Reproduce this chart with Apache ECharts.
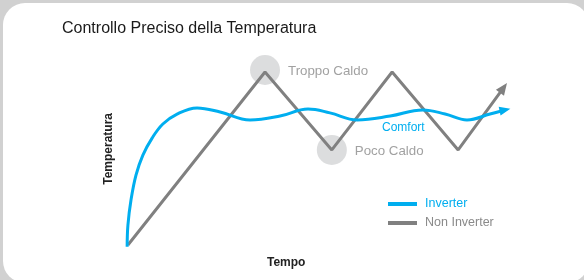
<!DOCTYPE html>
<html lang="it">
<head>
    <meta charset="UTF-8">
    <title>Controllo Preciso della Temperatura</title>
    <script src="https://cdn.jsdelivr.net/npm/echarts@6/dist/echarts.min.js"></script>
</head>
<style>
    html, body {
        margin: 0;
        padding: 0;
        width: 584px;
        height: 280px;
        overflow: hidden;
        background-color: #d1d1d1;
    }
    .card {
        position: absolute;
        left: 3px;
        top: 3px;
        width: 586px;
        height: 280px;
        border-radius: 22px;
        background-color: #ffffff;
    }
    #chart {
        position: absolute;
        left: 0;
        top: 0;
        width: 584px;
        height: 280px;
    }
</style>
<body>
<div class="card"></div>
<div id="chart"></div>
<script>
    // tempo (0-100) / temperatura (0-100)
    var inverterX = [0.3, 0.5, 1.3, 2.6, 4.4, 6.8, 9.6, 13.3, 18.5, 24.5, 32.3, 40.1, 47.4, 53.1, 60.2, 68.8, 77.3, 83.1, 88.8, 94.8, 98.7];
    var inverterY = [-1, 10.8, 24.3, 37.8, 48.6, 57.8, 65.4, 70.8, 74.1, 71.9, 67.6, 69.7, 73.5, 71.4, 67.6, 69.7, 73.0, 70.8, 67.6, 70.8, 73.0];
    var nonInverterX = [0.5, 36.2, 53.6, 69.3, 86.5, 98.3];
    var nonInverterY = [0, 93.5, 51.4, 93.5, 51.4, 84.9];
    var markerX = [36.2, 53.6];
    var markerY = [94.6, 51.4];
    var markerNames = ['Troppo Caldo', 'Poco Caldo'];
    var seriesNames = ['Inverter', 'Non Inverter'];

    var BLUE = '#00aeef';
    var GRAY = '#808080';
    var FONT = '"Liberation Sans", Arial, sans-serif';

    // ultimo punto = punta della freccia
    function pairs(xs, ys, arrowRotate, arrowSize) {
        var out = [];
        for (var i = 0; i < xs.length; i++) {
            if (i === xs.length - 1) {
                out.push({
                    value: [xs[i], ys[i]],
                    symbol: 'triangle',
                    symbolSize: arrowSize,
                    symbolRotate: arrowRotate
                });
            } else {
                out.push([xs[i], ys[i]]);
            }
        }
        return out;
    }

    var markers = [];
    for (var i = 0; i < markerX.length; i++) {
        markers.push({name: markerNames[i], value: [markerX[i], markerY[i]]});
    }

    var chart = echarts.init(document.getElementById('chart'), null, {renderer: 'canvas'});
    chart.setOption({
        animation: false,
        backgroundColor: 'transparent',
        textStyle: {fontFamily: FONT},
        grid: {left: 126, right: 74, top: 60, bottom: 35},
        xAxis: {type: 'value', min: 0, max: 100, show: false},
        yAxis: {type: 'value', min: 0, max: 100, show: false},
        legend: {
            orient: 'vertical',
            left: 388,
            top: 197,
            padding: 0,
            itemWidth: 29,
            itemHeight: 4,
            itemGap: 5,
            icon: 'rect',
            textStyle: {fontSize: 12.5, fontFamily: FONT, padding: [0, 0, 0, 3], lineHeight: 14},
            data: [
                {name: seriesNames[0], itemStyle: {color: BLUE}, textStyle: {color: BLUE}},
                {name: seriesNames[1], itemStyle: {color: GRAY}, textStyle: {color: '#8a8a8a'}}
            ]
        },
        graphic: [
            {type: 'text', left: 62, top: 21, style: {text: 'Controllo Preciso della Temperatura', fill: '#1a1a1a', font: '16px ' + FONT}},
            {type: 'text', left: 103, top: 113, rotation: Math.PI / 2, originX: 0, originY: 0,
                style: {text: 'Temperatura', fill: '#222', font: 'bold 12px ' + FONT}},
            {type: 'text', left: 267, top: 257, style: {text: 'Tempo', fill: '#222', font: 'bold 12px ' + FONT}},
            {type: 'text', left: 382, top: 122, style: {text: 'Comfort', fill: BLUE, font: '12px ' + FONT}}
        ],
        series: [
            {
                name: 'marker',
                type: 'scatter',
                z: 1,
                symbolSize: 30,
                itemStyle: {color: '#d3d4d6'},
                label: {
                    show: true,
                    position: 'right',
                    distance: 8,
                    offset: [0, 1],
                    formatter: '{b}',
                    color: '#8a8a8a',
                    fontSize: 13.3,
                    fontFamily: FONT
                },
                data: markers
            },
            {
                name: seriesNames[1],
                type: 'line',
                z: 2,
                clip: false,
                symbol: 'none',
                showAllSymbol: true,
                lineStyle: {color: GRAY, width: 3},
                itemStyle: {color: GRAY},
                data: pairs(nonInverterX, nonInverterY, -36, [10, 12])
            },
            {
                name: seriesNames[0],
                type: 'line',
                z: 3,
                clip: false,
                smooth: 0.4,
                symbol: 'none',
                showAllSymbol: true,
                lineStyle: {color: BLUE, width: 3},
                itemStyle: {color: BLUE},
                data: pairs(inverterX, inverterY, -78, [9, 11])
            }
        ]
    });
</script>
</body>
</html>
